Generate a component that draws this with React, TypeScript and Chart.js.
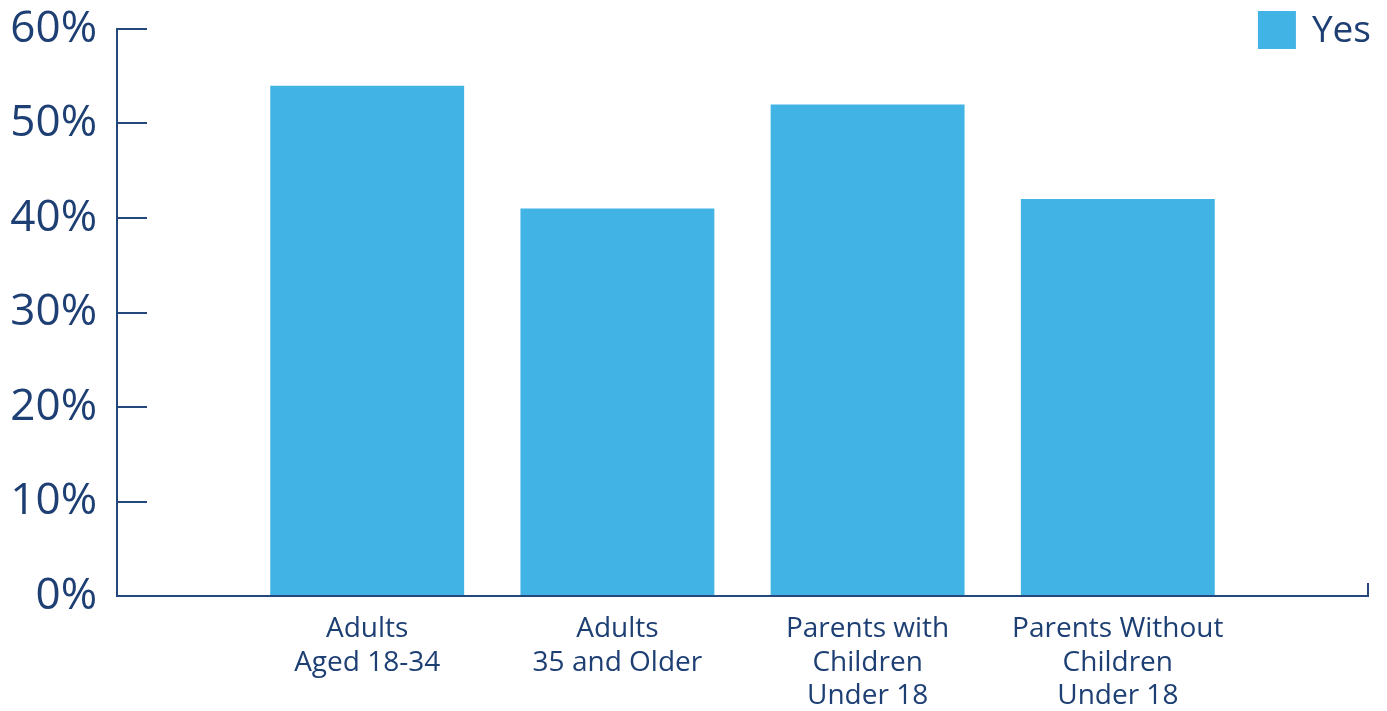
import React, { useEffect, useRef } from "react";
import { Chart, registerables } from "chart.js";

Chart.register(...registerables);

const categories: (string | string[])[] = [
  "",
  ["Adults", "Aged 18-34"],
  ["Adults", "35 and Older"],
  ["Parents with", "Children", "Under 18"],
  ["Parents Without", "Children", "Under 18"],
  "",
];
const seriesLabel = "Yes";
const yesValues: (number | null)[] = [null, 54, 41, 52, 42, null];
const yTicks = [0, 10, 20, 30, 40, 50, 60];

const NAVY = "#1D3F73";
const AXIS = "#24477C";
const BLUE = "#41B3E4";
const FONT = "'Open Sans', sans-serif";

const legendPlugin = {
  id: "topRightLegend",
  afterDraw(chart: any) {
    const ctx = chart.ctx;
    const ds = chart.data.datasets[0];
    ctx.save();
    ctx.font = `37px ${FONT}`;
    const label = ds.label as string;
    const tw = ctx.measureText(label).width;
    const right = chart.width - 16;
    const textX = right - tw;
    const boxSize = 38;
    const boxX = textX - 16 - boxSize;
    const boxY = 11;
    ctx.fillStyle = ds.backgroundColor;
    ctx.fillRect(boxX, boxY, boxSize, boxSize);
    ctx.fillStyle = NAVY;
    ctx.textBaseline = "middle";
    ctx.textAlign = "left";
    ctx.fillText(label, textX, boxY + boxSize / 2 + 1);
    ctx.restore();
  },
};

export default function App() {
  const ref = useRef<HTMLCanvasElement | null>(null);
  useEffect(() => {
    if (!ref.current) return;
    const lastIndex = categories.length - 1;
    const chart = new Chart(ref.current, {
      type: "bar",
      data: {
        labels: categories,
        datasets: [
          {
            label: seriesLabel,
            data: yesValues,
            backgroundColor: BLUE,
            borderWidth: 0,
            barPercentage: 0.775,
            categoryPercentage: 1,
          },
        ],
      },
      options: {
        animation: false,
        responsive: true,
        maintainAspectRatio: false,
        layout: { padding: { top: 29, right: 19, bottom: 0, left: 0 } },
        plugins: {
          legend: { display: false },
          tooltip: { enabled: false },
        },
        scales: {
          x: {
            offset: false,
            afterFit: (s: any) => {
              s.height = 115;
              s.paddingLeft = 0;
              s.paddingRight = 0;
            },
            grid: {
              display: true,
              offset: false,
              drawOnChartArea: false,
              drawTicks: true,
              tickLength: -13,
              lineWidth: 2,
              color: (c: any) =>
                c.index === 0 || c.index === lastIndex ? AXIS : "rgba(0,0,0,0)",
            },
            border: { display: true, color: AXIS, width: 2 },
            ticks: {
              color: NAVY,
              font: { family: FONT, size: 28, lineHeight: 1.18 },
              padding: 30,
              maxRotation: 0,
              autoSkip: false,
            },
          },
          y: {
            min: 0,
            max: 60,
            afterFit: (s: any) => {
              s.width = 117;
              s.paddingTop = 0;
              s.paddingBottom = 0;
            },
            afterBuildTicks: (s: any) => {
              s.ticks = yTicks.map((v) => ({ value: v }));
            },
            grid: {
              display: true,
              drawOnChartArea: false,
              drawTicks: true,
              tickLength: -30,
              lineWidth: 2,
              color: AXIS,
            },
            border: { display: true, color: AXIS, width: 2 },
            ticks: {
              color: NAVY,
              font: { family: FONT, size: 44 },
              padding: 50,
              callback: (v: any) => `${v}%`,
            },
          },
        },
      },
      plugins: [legendPlugin],
    });
    return () => chart.destroy();
  }, []);

  return (
    <div style={{ position: "fixed", left: 0, top: 0, width: 1387, height: 711, background: "#fff" }}>
      <canvas ref={ref} />
    </div>
  );
}
